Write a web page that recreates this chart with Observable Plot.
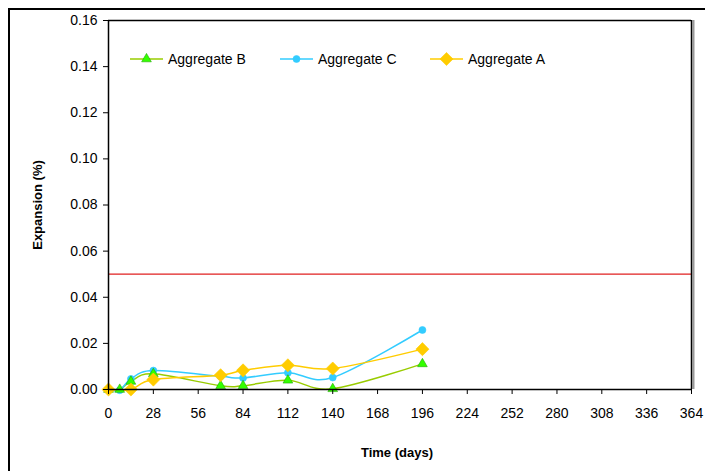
<!DOCTYPE html>
<html>
<head>
<meta charset="utf-8">
<script src="https://cdn.jsdelivr.net/npm/d3@7"></script>
<script src="https://cdn.jsdelivr.net/npm/@observablehq/plot@0.6"></script>
<style>
  html, body { margin: 0; padding: 0; background: #fff; }
  #wrap { position: relative; width: 705px; height: 471px; overflow: hidden; font-family: "Liberation Sans", Arial, sans-serif; }
  #frame { position: absolute; left: 8px; top: 8px; width: 720px; height: 500px; border-left: 2px solid #000; border-top: 2px solid #000; box-sizing: border-box; pointer-events: none; }
  #legend { position: absolute; left: 0; top: 0; }
  .item { position: absolute; display: flex; align-items: center; font-size: 14px; color: #000; white-space: nowrap; }
  .item svg { display: block; margin-right: 4px; }
  .title { position: absolute; font-weight: bold; font-size: 13px; color: #000; white-space: nowrap; }
  #xtitle { left: 397px; top: 452px; transform: translate(-50%, -50%); }
  #ytitle { left: 37px; top: 205px; transform: translate(-50%, -50%) rotate(-90deg); }
</style>
</head>
<body>
<div id="wrap"><div id="frame"></div><div id="legend"></div><div id="xtitle" class="title"></div><div id="ytitle" class="title"></div></div>
<script>
// ---- data ----
const daysA = [0, 14, 28, 70, 84, 112, 140, 196];
const expA  = [0.0, 0.0, 0.0043, 0.0062, 0.0083, 0.0105, 0.0091, 0.0175];

const daysC = [0, 7, 14, 28, 70, 84, 112, 140, 196];
const expC  = [0.0, -0.0003, 0.0046, 0.0082, 0.0057, 0.005, 0.0073, 0.0052, 0.0258];

const daysB = [0, 7, 14, 28, 70, 84, 112, 140, 196];
const expB  = [0.0, 0.0, 0.0035, 0.0068, 0.0016, 0.0016, 0.004, 0.0003, 0.0111];

const seriesNames = ["Aggregate B", "Aggregate C", "Aggregate A"];
const xTitle = "Time (days)";
const yTitle = "Expansion (%)";
const limitValue = 0.05;
const xTicks = d3.range(0, 365, 28);
const yTicks = [0, 0.02, 0.04, 0.06, 0.08, 0.10, 0.12, 0.14, 0.16];

const colors = {
  "Aggregate A": {line: "#FFCC00", fill: "#FFCC00", stroke: "#FFCC00", symbol: "diamond2", r: 5.9},
  "Aggregate B": {line: "#99CC00", fill: "#33FF00", stroke: "#22AA00", symbol: "triangle", r: 3.6},
  "Aggregate C": {line: "#33CCFF", fill: "#33CCFF", stroke: "#33CCFF", symbol: "circle", r: 3.5}
};

const toRows = (name, xs, ys) => xs.map((d, i) => ({series: name, day: d, exp: ys[i]}));
const rowsA = toRows("Aggregate A", daysA, expA);
const rowsB = toRows("Aggregate B", daysB, expB);
const rowsC = toRows("Aggregate C", daysC, expC);

const curve = d3.curveCardinal.tension(0);

function lineMark(rows, name) {
  const c = colors[name];
  return Plot.line(rows, {x: "day", y: "exp", stroke: c.line, strokeWidth: 1.5, curve});
}
function dotMark(rows, name) {
  const c = colors[name];
  return Plot.dot(rows, {x: "day", y: "exp", symbol: c.symbol, r: c.r, fill: c.fill, stroke: c.stroke, strokeWidth: 0.6});
}

const chart = Plot.plot({
  width: 705,
  height: 471,
  marginLeft: 108,
  marginTop: 20,
  marginRight: 14,
  marginBottom: 82,
  style: {fontFamily: "'Liberation Sans', Arial, sans-serif", fontSize: "14px", color: "#000", background: "transparent", overflow: "visible"},
  x: {domain: [0, 364]},
  y: {domain: [0, 0.16]},
  marks: [
    Plot.ruleY([limitValue], {stroke: "#E02020", strokeWidth: 1.3}),
    Plot.ruleY([0.16], {stroke: "#000", strokeWidth: 1.5}),
    Plot.ruleX([364], {stroke: "#999", strokeWidth: 2, dx: 2}),
    Plot.ruleX([364], {stroke: "#000", strokeWidth: 1.5}),
    lineMark(rowsB, "Aggregate B"),
    lineMark(rowsC, "Aggregate C"),
    lineMark(rowsA, "Aggregate A"),
    dotMark(rowsC, "Aggregate C"),
    dotMark(rowsB, "Aggregate B"),
    dotMark(rowsA, "Aggregate A"),
    Plot.axisX({ticks: xTicks, tickSize: 5, tickPadding: 14, fontSize: 14, label: null}),
    Plot.axisY({ticks: yTicks, tickSize: 5, tickPadding: 6, fontSize: 14, tickFormat: d => d.toFixed(2), label: null}),
    Plot.ruleX([0], {stroke: "#000", strokeWidth: 1.5}),
    Plot.ruleY([0], {stroke: "#000", strokeWidth: 1.5})
  ]
});
document.getElementById("wrap").insertBefore(chart, document.getElementById("frame"));
document.getElementById("xtitle").textContent = xTitle;
document.getElementById("ytitle").textContent = yTitle;

// legend
const legendPos = {"Aggregate B": 130, "Aggregate C": 280, "Aggregate A": 430};
const legend = document.getElementById("legend");
const symMap = {triangle: d3.symbolTriangle, circle: d3.symbolCircle, diamond2: d3.symbolDiamond2};
for (const name of seriesNames) {
  const c = colors[name];
  const div = document.createElement("div");
  div.className = "item";
  div.style.left = legendPos[name] + "px";
  div.style.top = "51px";
  const svg = d3.create("svg").attr("width", 34).attr("height", 16);
  svg.append("line").attr("x1", 0).attr("x2", 33).attr("y1", 8).attr("y2", 8).attr("stroke", c.line).attr("stroke-width", 1.5);
  svg.append("path").attr("transform", "translate(16.5,8)")
    .attr("d", d3.symbol(symMap[c.symbol], Math.PI * c.r * c.r)())
    .attr("fill", c.fill).attr("stroke", c.stroke).attr("stroke-width", 0.6);
  div.appendChild(svg.node());
  const span = document.createElement("span");
  span.textContent = name;
  div.appendChild(span);
  legend.appendChild(div);
}
</script>
</body>
</html>
